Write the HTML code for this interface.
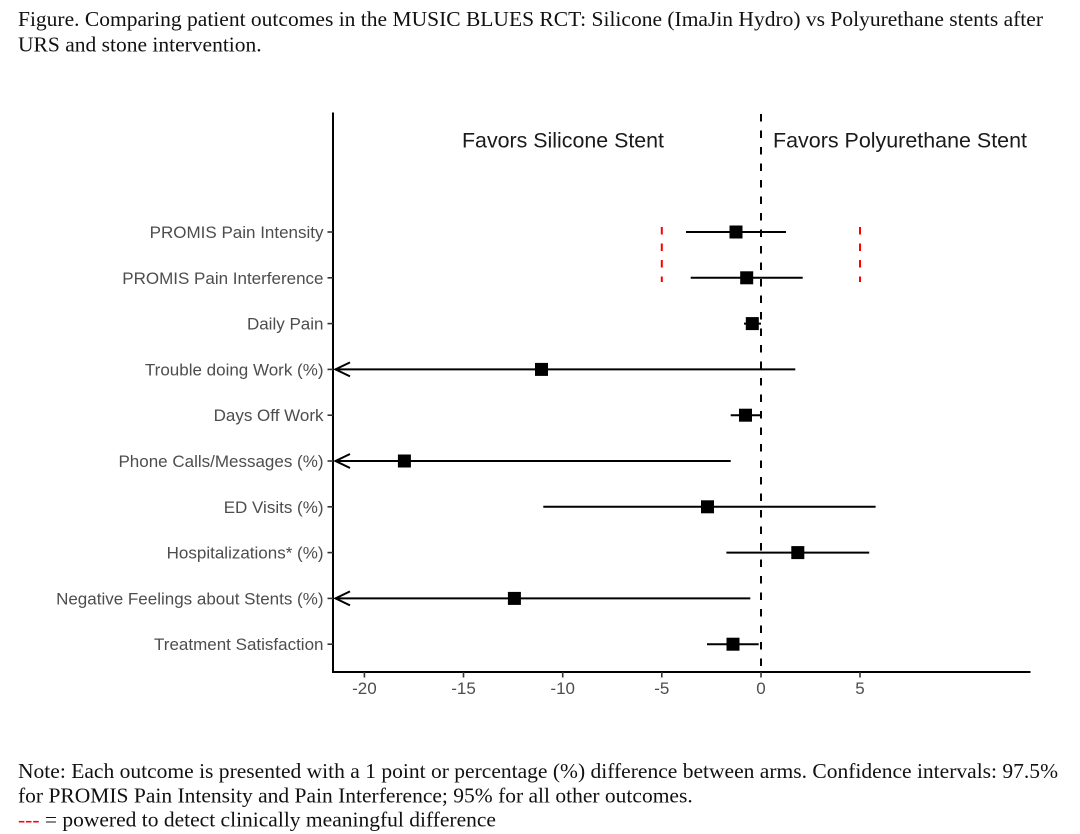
<!DOCTYPE html>
<html>
<head>
<meta charset="utf-8">
<style>
  html, body { margin: 0; padding: 0; background: #ffffff; }
  svg { display: block; }
</style>
</head>
<body>
<svg width="1080" height="834" viewBox="0 0 1080 834" xmlns="http://www.w3.org/2000/svg">
  <rect x="0" y="0" width="1080" height="834" fill="#ffffff"/>

  <!-- Title -->
  <g font-family="'Liberation Serif', 'Times New Roman', serif" font-size="21.5" fill="#111">
    <text x="18" y="26" textLength="1025" lengthAdjust="spacingAndGlyphs">Figure. Comparing patient outcomes in the MUSIC BLUES RCT: Silicone (ImaJin Hydro) vs Polyurethane stents after</text>
    <text x="18" y="51.5">URS and stone intervention.</text>
  </g>

  <!-- Header annotations -->
  <g font-family="'Liberation Sans', Arial, sans-serif" font-size="21.5" fill="#1a1a1a">
    <text x="462" y="147.5" textLength="202" lengthAdjust="spacingAndGlyphs">Favors Silicone Stent</text>
    <text x="773" y="147.5" textLength="254" lengthAdjust="spacingAndGlyphs">Favors Polyurethane Stent</text>
  </g>

  <!-- Zero dashed line -->
  <line x1="761" y1="114" x2="761" y2="672" stroke="#000" stroke-width="2" stroke-dasharray="7.5 9"/>

  <!-- Red dashed lines -->
  <line x1="661.8" y1="227" x2="661.8" y2="282" stroke="#ff0000" stroke-width="2" stroke-dasharray="7.5 9"/>
  <line x1="860" y1="227" x2="860" y2="282" stroke="#ff0000" stroke-width="2" stroke-dasharray="7.5 9"/>

  <!-- Axes -->
  <line x1="333" y1="112.5" x2="333" y2="673" stroke="#000" stroke-width="2"/>
  <line x1="332" y1="672" x2="1030.5" y2="672" stroke="#000" stroke-width="2"/>

  <!-- Y ticks -->
  <g stroke="#333" stroke-width="1.6">
    <line x1="327.5" y1="232" x2="333" y2="232"/>
    <line x1="327.5" y1="277.8" x2="333" y2="277.8"/>
    <line x1="327.5" y1="323.6" x2="333" y2="323.6"/>
    <line x1="327.5" y1="369.4" x2="333" y2="369.4"/>
    <line x1="327.5" y1="415.2" x2="333" y2="415.2"/>
    <line x1="327.5" y1="461" x2="333" y2="461"/>
    <line x1="327.5" y1="506.8" x2="333" y2="506.8"/>
    <line x1="327.5" y1="552.6" x2="333" y2="552.6"/>
    <line x1="327.5" y1="598.4" x2="333" y2="598.4"/>
    <line x1="327.5" y1="644.2" x2="333" y2="644.2"/>
  </g>

  <!-- X ticks -->
  <g stroke="#333" stroke-width="1.6">
    <line x1="364.4" y1="672" x2="364.4" y2="677.5"/>
    <line x1="463.5" y1="672" x2="463.5" y2="677.5"/>
    <line x1="562.7" y1="672" x2="562.7" y2="677.5"/>
    <line x1="661.8" y1="672" x2="661.8" y2="677.5"/>
    <line x1="761" y1="672" x2="761" y2="677.5"/>
    <line x1="860" y1="672" x2="860" y2="677.5"/>
  </g>

  <!-- X tick labels -->
  <g font-family="'Liberation Sans', Arial, sans-serif" font-size="17" fill="#4d4d4d" text-anchor="middle">
    <text x="364.4" y="694">-20</text>
    <text x="463.5" y="694">-15</text>
    <text x="562.7" y="694">-10</text>
    <text x="661.8" y="694">-5</text>
    <text x="761" y="694">0</text>
    <text x="860" y="694">5</text>
  </g>

  <!-- Y labels -->
  <g font-family="'Liberation Sans', Arial, sans-serif" font-size="17" fill="#4d4d4d" text-anchor="end">
    <text x="323.5" y="238">PROMIS Pain Intensity</text>
    <text x="323.5" y="283.8">PROMIS Pain Interference</text>
    <text x="323.5" y="329.6">Daily Pain</text>
    <text x="323.5" y="375.4">Trouble doing Work (%)</text>
    <text x="323.5" y="421.2">Days Off Work</text>
    <text x="323.5" y="467">Phone Calls/Messages (%)</text>
    <text x="323.5" y="512.8">ED Visits (%)</text>
    <text x="323.5" y="558.6">Hospitalizations* (%)</text>
    <text x="323.5" y="604.4">Negative Feelings about Stents (%)</text>
    <text x="323.5" y="650.2">Treatment Satisfaction</text>
  </g>

  <!-- CI lines -->
  <g stroke="#000" stroke-width="2" fill="none">
    <line x1="686" y1="232" x2="786" y2="232"/>
    <line x1="690.7" y1="277.8" x2="802.7" y2="277.8"/>
    <line x1="744" y1="323.6" x2="761" y2="323.6"/>
    <line x1="335" y1="369.4" x2="795.3" y2="369.4"/>
    <polyline points="350,362.4 335.5,369.4 350,376.4"/>
    <line x1="730.7" y1="415.2" x2="761" y2="415.2"/>
    <line x1="335" y1="461" x2="730.7" y2="461"/>
    <polyline points="350,454 335.5,461 350,468"/>
    <line x1="543.3" y1="506.8" x2="875.6" y2="506.8"/>
    <line x1="726.4" y1="552.6" x2="869.2" y2="552.6"/>
    <line x1="335" y1="598.4" x2="750.3" y2="598.4"/>
    <polyline points="350,591.4 335.5,598.4 350,605.4"/>
    <line x1="707" y1="644.2" x2="758.7" y2="644.2"/>
  </g>

  <!-- Point estimates -->
  <g fill="#000">
    <rect x="729.5" y="225.5" width="13" height="13"/>
    <rect x="740.2" y="271.3" width="13" height="13"/>
    <rect x="745.8" y="317.1" width="13" height="13"/>
    <rect x="535" y="362.9" width="13" height="13"/>
    <rect x="739" y="408.7" width="13" height="13"/>
    <rect x="397.9" y="454.5" width="13" height="13"/>
    <rect x="701" y="500.3" width="13" height="13"/>
    <rect x="791.3" y="546.1" width="13" height="13"/>
    <rect x="507.9" y="591.9" width="13" height="13"/>
    <rect x="726.5" y="637.7" width="13" height="13"/>
  </g>

  <!-- Note -->
  <g font-family="'Liberation Serif', 'Times New Roman', serif" font-size="21.5" fill="#111">
    <text x="18" y="778" textLength="1040" lengthAdjust="spacingAndGlyphs">Note: Each outcome is presented with a 1 point or percentage (%) difference between arms. Confidence intervals: 97.5%</text>
    <text x="18" y="802.5">for PROMIS Pain Intensity and Pain Interference; 95% for all other outcomes.</text>
    <text x="18" y="826.5"><tspan fill="#ff0000">---</tspan> = powered to detect clinically meaningful difference</text>
  </g>
</svg>
</body>
</html>
